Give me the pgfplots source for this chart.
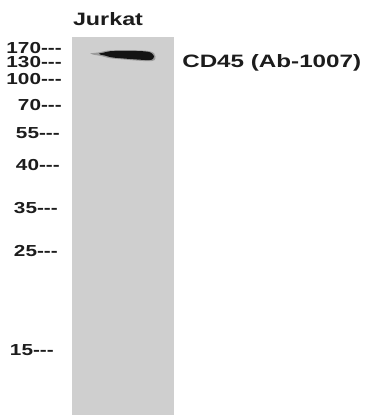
\documentclass[border=0pt]{standalone}
\usepackage{fontspec}
\setmainfont{Liberation Sans}
\usepackage{pgfplots}
\usepackage{pgfplotstable}
\pgfplotsset{compat=1.18}
\definecolor{lanegray}{HTML}{CFCFCF}
\definecolor{txt}{HTML}{1C1C1C}
\pgfplotstableread{
x y lab
62 48 170
62 62 130
62 79 100
62 105 70
60 133 55
60 165 40
58 208 35
58 251 25
54 350 15
}\markers
\begin{document}
\begin{tikzpicture}
\begin{axis}[
  at={(0,0)}, anchor=south west,
  width=368bp, height=415bp, scale only axis,
  xmin=0, xmax=368, ymin=0, ymax=415, y dir=reverse,
  hide axis, clip=false,
]
% lane
\addplot[fill=lanegray, draw=none] coordinates {(72,37) (174,37) (174,415) (72,415)} -- cycle;
% band faint tail
\addplot[fill=black, fill opacity=0.25, draw=none, smooth, tension=0.6] coordinates {
(90,53.4) (100,52.2) (108,50.6) (125,50.1) (140,50.4) (149,51.1) (154,53.2) (155.5,56.5) (154.5,60) (150,61.2) (140,60.8) (125,59.6) (110,58.2) (102,56.2) (93,54.6)} -- cycle;
% band core
\addplot[fill=black!92, draw=none, smooth, tension=0.6] coordinates {
(99,53.5) (105,52.3) (110,51.2) (125,50.8) (140,51.1) (148,51.8) (152,53.5) (154,56.5) (153,59) (149,60.1) (140,59.7) (125,58.6) (112,57.4) (105,55.6) (100,54.5)} -- cycle;
% marker labels
\addplot[draw=none, mark=none, point meta=explicit symbolic,
  nodes near coords={\pgfplotspointmeta-{}-{}-},
  nodes near coords style={anchor=east, inner sep=0pt, xscale=1.3,
    font=\fontsize{16}{16}\selectfont\bfseries, text=txt}]
  table[x=x, y=y, meta=lab] {\markers};
\node[anchor=base, inner sep=0pt, xscale=1.3, font=\fontsize{18}{18}\selectfont\bfseries, text=txt] at (axis cs:108,26) {Jurkat};
\node[anchor=base west, inner sep=0pt, xscale=1.35, font=\fontsize{18}{18}\selectfont\bfseries, text=txt] at (axis cs:182,68) {CD45 (Ab-1007)};
\end{axis}
\pgfresetboundingbox
\path[use as bounding box] (0,0) rectangle (368bp,415bp);
\end{tikzpicture}
\end{document}
